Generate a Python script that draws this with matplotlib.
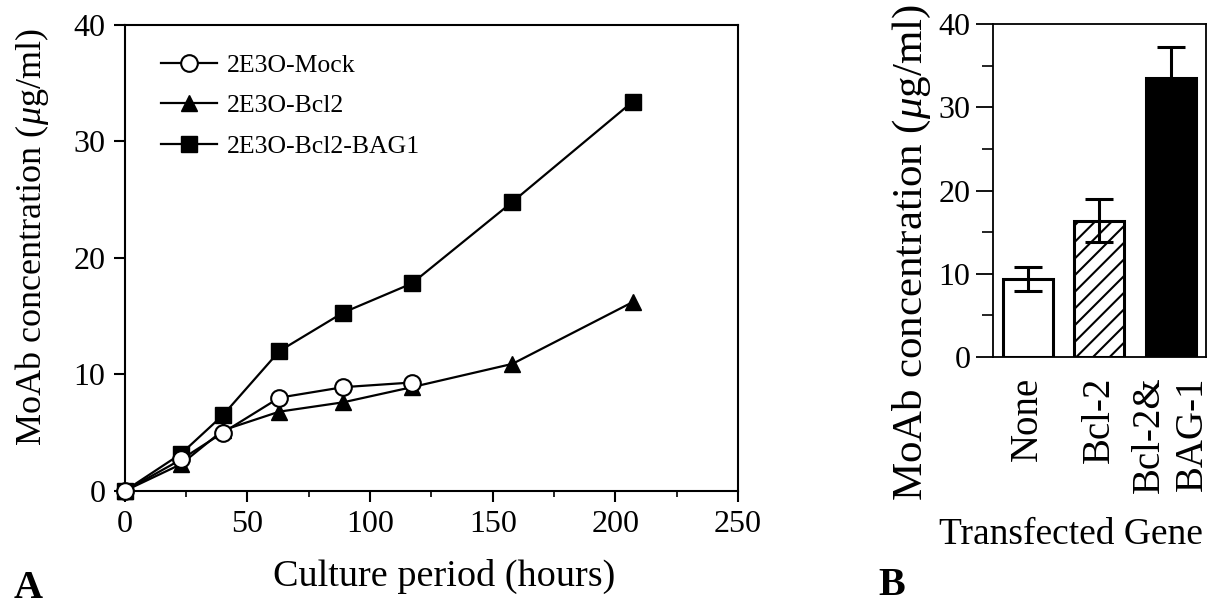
import numpy as np
import matplotlib
matplotlib.use('Agg')
import matplotlib.pyplot as plt
from matplotlib.ticker import MultipleLocator

plt.rcParams['font.family'] = ['Liberation Serif', 'DejaVu Serif']
plt.rcParams['mathtext.fontset'] = 'custom'
plt.rcParams['mathtext.rm'] = 'Liberation Serif'
plt.rcParams['mathtext.it'] = 'Liberation Serif:italic'
plt.rcParams['hatch.linewidth'] = 1.5

# panel A: culture time course
hours_mock = [0, 23, 40, 63, 89, 117]
mock = [0, 2.7, 5.0, 8.0, 8.9, 9.3]
hours = [0, 23, 40, 63, 89, 117, 158, 207]
bcl2 = [0, 2.3, 5.2, 6.8, 7.6, 8.9, 10.9, 16.2]
bag1 = [0, 3.2, 6.5, 12.0, 15.3, 17.8, 24.8, 33.4]

# panel B: transfected gene
genes = ['None', 'Bcl-2', 'Bcl-2&\nBAG-1']
moab = [9.4, 16.4, 33.5]
moab_err = [1.45, 2.6, 3.8]

fig = plt.figure(figsize=(12.24, 6.06), dpi=100)

ax1 = fig.add_axes([0.102, 0.19, 0.501, 0.769])
ax2 = fig.add_axes([0.811, 0.411, 0.174, 0.549])

l3, = ax1.plot(hours, bag1, color='black', lw=1.6, marker='s', ms=12,
               mfc='black', mec='black', zorder=3)
l2, = ax1.plot(hours, bcl2, color='black', lw=1.6, marker='^', ms=12,
               mfc='black', mec='black', zorder=4)
l1, = ax1.plot(hours_mock, mock, color='black', lw=1.6, marker='o', ms=12,
               mfc='white', mec='black', mew=1.5, zorder=5)

ax1.legend([l1, l2, l3], ['2E3O-Mock', '2E3O-Bcl2', '2E3O-Bcl2-BAG1'],
           loc='upper left', frameon=False, fontsize=18.5, handlelength=2.2,
           labelspacing=0.68, borderaxespad=0.0, handletextpad=0.35,
           bbox_to_anchor=(0.042, 0.96))

ax1.set_xlim(0, 250)
ax1.set_ylim(0, 40)
ax1.xaxis.set_major_locator(MultipleLocator(50))
ax1.xaxis.set_minor_locator(MultipleLocator(25))
ax1.yaxis.set_major_locator(MultipleLocator(10))
ax1.tick_params(which='major', direction='out', length=8, width=1.5,
                labelsize=23, pad=6)
ax1.tick_params(which='minor', direction='out', length=4, width=1.2)
ax1.set_xlabel('Culture period (hours)', fontsize=27.5)
ax1.xaxis.set_label_coords(0.52, -0.145)
ax1.set_ylabel(r'MoAb concentration ($\mu$g/ml)', fontsize=26)
ax1.yaxis.set_label_coords(-0.12, 0.545)
for s in ax1.spines.values():
    s.set_linewidth(1.5)
for p in ax1.lines:
    p.set_clip_on(False)

pos = np.arange(len(genes))
ax2.bar(pos, moab, width=0.7, color=['white', 'white', 'black'],
        edgecolor='black', linewidth=2.2, hatch=['', '//', ''], zorder=2)
ax2.errorbar(pos, moab, yerr=moab_err, fmt='none', ecolor='black',
             elinewidth=2.2, capsize=10, capthick=2.2, zorder=3)
ax2.set_xlim(-0.49, 2.49)
ax2.set_ylim(0, 40)
ax2.yaxis.set_major_locator(MultipleLocator(10))
ax2.yaxis.set_minor_locator(MultipleLocator(5))
ax2.set_xticks(pos)
ax2.set_xticklabels(genes, rotation=90, fontsize=28, multialignment='right')
ax2.tick_params(axis='x', length=0, pad=14)
ax2.tick_params(axis='y', which='major', direction='out', length=12,
                width=1.3, labelsize=23, pad=4)
ax2.tick_params(axis='y', which='minor', direction='out', length=8, width=1.2)
ax2.set_ylabel(r'MoAb concentration ($\mu$g/ml)', fontsize=31)
ax2.yaxis.set_label_coords(-0.28, 0.315)
ax2.set_xlabel('Transfected Gene', fontsize=27)
ax2.xaxis.set_label_coords(0.366, -0.484)
for s in ax2.spines.values():
    s.set_linewidth(1.3)

fig.text(0.011, 0.013, 'A', fontsize=29, fontweight='bold')
fig.text(0.718, 0.018, 'B', fontsize=29, fontweight='bold')

fig.savefig('out.png', dpi=100)
